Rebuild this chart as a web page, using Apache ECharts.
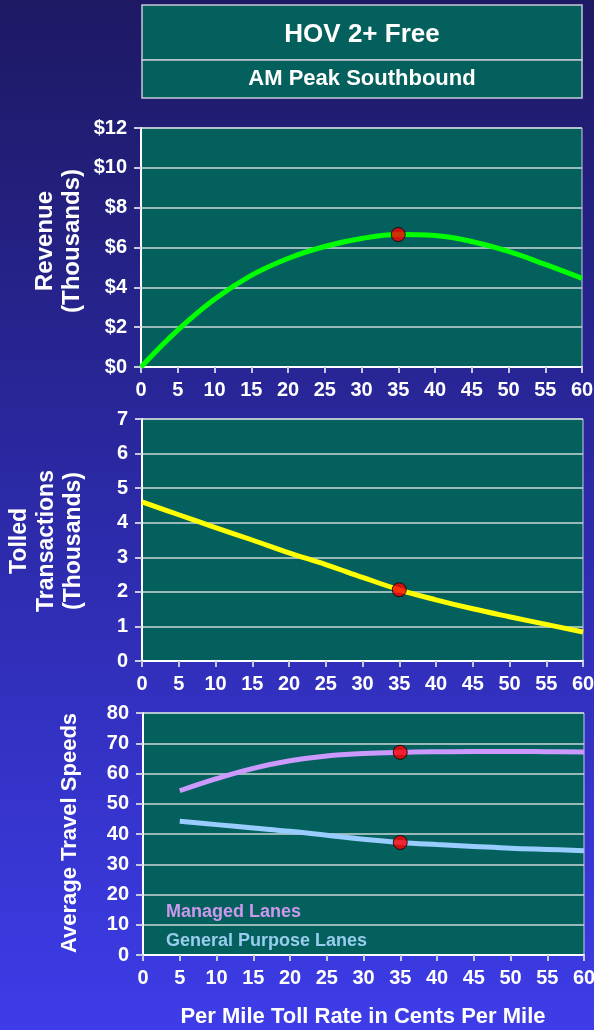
<!DOCTYPE html>
<html>
<head>
<meta charset="utf-8">
<script src="https://cdn.jsdelivr.net/npm/echarts@6/dist/echarts.min.js"></script>
<style>
  html, body { margin: 0; padding: 0; }
  #chart { width: 594px; height: 1030px; }
</style>
</head>
<body>
<div id="chart"></div>
<script>
// Toll rate in cents per mile (x axis of all three panels)
const tollRates = [0, 5, 10, 15, 20, 25, 30, 35, 40, 45, 50, 55, 60];
// Revenue, thousands of dollars
const revenue = [0, 1.85, 3.4, 4.6, 5.45, 6.05, 6.45, 6.65, 6.6, 6.3, 5.8, 5.15, 4.45];
// Tolled transactions, thousands
const transactions = [4.6, 4.23, 3.86, 3.5, 3.13, 2.79, 2.42, 2.06, 1.77, 1.51, 1.28, 1.06, 0.84];
// Average travel speeds (mph), starting at 5 cents
const speedRates = [5, 10, 15, 20, 25, 30, 35, 40, 45, 50, 55, 60];
const managedSpeeds = [54.3, 58.3, 61.7, 64.2, 65.8, 66.6, 67.0, 67.2, 67.3, 67.3, 67.2, 67.1];
const generalSpeeds = [44.2, 43.1, 42.0, 40.9, 39.6, 38.3, 37.2, 36.5, 35.9, 35.3, 34.9, 34.5];
// Selected operating point
const selectedRate = 35;

const xTicks = ['0','5','10','15','20','25','30','35','40','45','50','55','60'];
const revenueTicks = ['$0','$2','$4','$6','$8','$10','$12'];

const pairs = (xs, ys) => xs.map((x, i) => [x, ys[i]]);
const at = (xs, ys, x) => [x, ys[xs.indexOf(x)]];

const SANS = "'Liberation Sans', Arial, sans-serif";
const PLOT_BG = '#04605c';

function grid(left, top, width, height) {
  return {
    left: left, top: top, width: width, height: height,
    outerBoundsMode: 'none', containLabel: false,
    show: true, backgroundColor: PLOT_BG,
    borderColor: '#c8cce0', borderWidth: 1
  };
}
function xAxis(gridIndex) {
  return {
    type: 'value', gridIndex: gridIndex, min: 0, max: 60, interval: 5,
    axisLine: { show: true, onZero: false, lineStyle: { color: '#ffffff', width: 2 } },
    axisTick: { show: true, length: 6, lineStyle: { color: '#c8c8e0', width: 2 } },
    axisLabel: {
      color: '#ffffff', fontFamily: SANS, fontWeight: 'bold', fontSize: 20, margin: 13,
      formatter: v => xTicks[Math.round(v / 5)]
    },
    splitLine: { show: false }
  };
}
function yAxis(gridIndex, max, interval, fmt) {
  return {
    type: 'value', gridIndex: gridIndex, min: 0, max: max, interval: interval,
    axisLine: { show: true, lineStyle: { color: '#ffffff', width: 2 } },
    axisTick: { show: true, inside: false, length: 7, lineStyle: { color: '#c8c8e0', width: 2 } },
    axisLabel: {
      color: '#ffffff', fontFamily: SANS, fontWeight: 'bold', fontSize: 20, margin: 14,
      formatter: fmt
    },
    splitLine: { show: true, lineStyle: { color: '#c8d8d8', width: 1.5 } }
  };
}
function curve(name, xi, data, color, width) {
  return {
    name: name, type: 'line', xAxisIndex: xi, yAxisIndex: xi, data: data,
    smooth: 0.4, symbol: 'none', lineStyle: { color: color, width: width },
    itemStyle: { color: color }, z: 2
  };
}
function dot(xi, point) {
  return {
    type: 'scatter', xAxisIndex: xi, yAxisIndex: xi, data: [point],
    symbolSize: 14, itemStyle: { color: '#ff0000', borderColor: '#000000', borderWidth: 1 }, z: 5
  };
}
function sideTitle(lines, cx, cy, size) {
  return {
    type: 'text', x: cx, y: cy, rotation: Math.PI / 2,
    style: {
      text: lines.join('\n'), fill: '#ffffff', font: 'bold ' + size + 'px ' + SANS,
      textAlign: 'center', textVerticalAlign: 'middle', lineHeight: 27
    }
  };
}

const chart = echarts.init(document.getElementById('chart'), null, { renderer: 'canvas' });
chart.setOption({
  animation: false,
  backgroundColor: {
    type: 'linear', x: 0, y: 0, x2: 0, y2: 1,
    colorStops: [
      { offset: 0, color: '#1d1963' },
      { offset: 0.5, color: '#2c2aa8' },
      { offset: 1, color: '#3d3ce8' }
    ]
  },
  grid: [
    grid(141, 128, 441, 239),
    grid(142, 419, 441, 242),
    grid(143, 713, 441, 242)
  ],
  xAxis: [xAxis(0), xAxis(1), xAxis(2)],
  yAxis: [
    yAxis(0, 12, 2, v => revenueTicks[Math.round(v / 2)]),
    yAxis(1, 7, 1, v => String(v)),
    yAxis(2, 80, 10, v => String(v))
  ],
  legend: {
    orient: 'vertical', left: 156, top: 898, itemGap: 11,
    icon: 'none', itemWidth: 0, itemHeight: 0,
    textStyle: { fontFamily: SANS, fontWeight: 'bold', fontSize: 18 },
    data: [
      { name: 'Managed Lanes', textStyle: { color: '#cc99ee' } },
      { name: 'General Purpose Lanes', textStyle: { color: '#99ccee' } }
    ],
    selectedMode: false
  },
  series: [
    curve('Revenue', 0, pairs(tollRates, revenue), '#00ff00', 5),
    dot(0, at(tollRates, revenue, selectedRate)),
    curve('Tolled Transactions', 1, pairs(tollRates, transactions), '#ffff00', 5),
    dot(1, at(tollRates, transactions, selectedRate)),
    curve('Managed Lanes', 2, pairs(speedRates, managedSpeeds), '#cc99ff', 5),
    curve('General Purpose Lanes', 2, pairs(speedRates, generalSpeeds), '#99ccff', 5),
    dot(2, at(speedRates, managedSpeeds, selectedRate)),
    dot(2, at(speedRates, generalSpeeds, selectedRate))
  ],
  graphic: [
    { type: 'rect', shape: { x: 142, y: 5, width: 440, height: 55 },
      style: { fill: PLOT_BG, stroke: '#c8c8d8', lineWidth: 1.5 } },
    { type: 'rect', shape: { x: 142, y: 60, width: 440, height: 38 },
      style: { fill: PLOT_BG, stroke: '#c8c8d8', lineWidth: 1.5 } },
    { type: 'text', x: 362, y: 35,
      style: { text: 'HOV 2+ Free', fill: '#ffffff', font: 'bold 26px ' + SANS,
               textAlign: 'center', textVerticalAlign: 'middle' } },
    { type: 'text', x: 362, y: 79,
      style: { text: 'AM Peak Southbound', fill: '#ffffff', font: 'bold 22px ' + SANS,
               textAlign: 'center', textVerticalAlign: 'middle' } },
    sideTitle(['Revenue', '(Thousands)'], 59, 241, 24),
    sideTitle(['Tolled', 'Transactions', '(Thousands)'], 47, 541, 23),
    sideTitle(['Average Travel Speeds'], 70, 833, 22),
    { type: 'text', x: 363, y: 1017,
      style: { text: 'Per Mile Toll Rate in Cents Per Mile', fill: '#ffffff', font: 'bold 22px ' + SANS,
               textAlign: 'center', textVerticalAlign: 'middle' } }
  ]
});
</script>
</body>
</html>
